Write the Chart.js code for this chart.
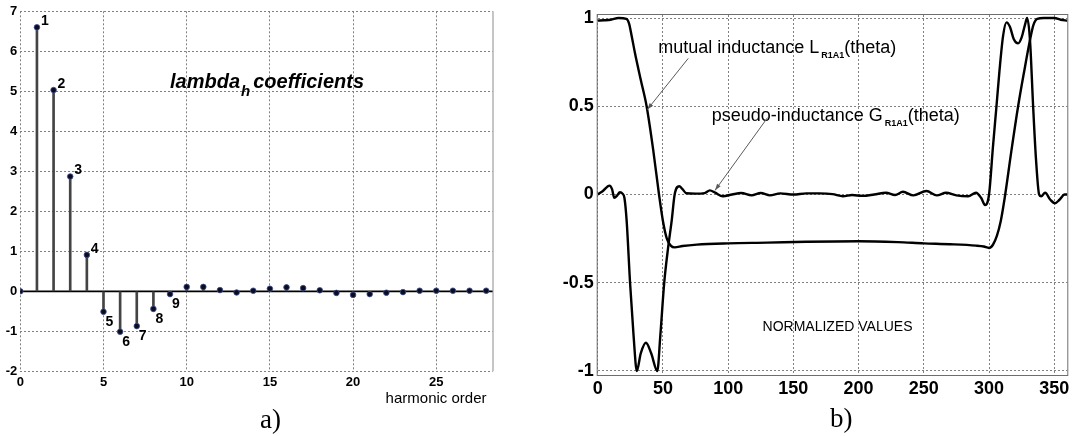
<!DOCTYPE html>
<html>
<head>
<meta charset="utf-8">
<script src="https://cdn.jsdelivr.net/npm/chart.js@4.4.1/dist/chart.umd.min.js"></script>
<style>
  html, body { margin: 0; padding: 0; background: #fff; }
  #wrap { position: relative; width: 1075px; height: 436px; overflow: hidden; background: #fff; }
  canvas { position: absolute; top: 0; }
  #chartA { left: 0; }
  #chartB { left: 540px; }
  .tag { position: absolute; font-family: "Liberation Serif", "Times New Roman", serif; font-size: 27px; line-height: 27px; color: #000; }
</style>
</head>
<body>
<div id="wrap">
  <canvas id="chartA" width="540" height="436"></canvas>
  <canvas id="chartB" width="535" height="436"></canvas>
  <div class="tag" style="left:260px; top:406px;">a)</div>
  <div class="tag" style="left:830px; top:405px;">b)</div>
</div>
<script>
// panel a) : lambda_h coefficients versus harmonic order
const harmonicOrder = [0, 1, 2, 3, 4, 5, 6, 7, 8, 9, 10, 11, 12, 13, 14, 15, 16, 17, 18, 19, 20, 21, 22, 23, 24, 25, 26, 27, 28];
const lambdaCoeff = [0, 6.6, 5.03, 2.87, 0.91, -0.51, -1.01, -0.87, -0.44, -0.07, 0.11, 0.11, 0.03, -0.03, 0.015,
  0.065, 0.1, 0.08, 0.025, -0.04, -0.09, -0.07, -0.035, -0.02, 0.015, 0.015, 0.015, 0.015, 0.015];
const labeledOrders = [1, 2, 3, 4, 5, 6, 7, 8, 9];
const xTicksA = [0, 5, 10, 15, 20, 25];
const yTicksA = [-2, -1, 0, 1, 2, 3, 4, 5, 6, 7];

// panel b) : normalized inductances versus theta (deg)
const thetaL = [0, 5, 10, 16, 22, 24, 26, 28.6, 33, 37.5, 42.6, 47, 50, 53, 56, 59, 65, 76, 100, 130, 160, 200,
  230, 250, 270, 290, 296, 300, 303, 306, 309, 312, 317, 322.3, 327, 331.4, 334, 337, 342, 350, 355, 360];
const valL = [0.985, 0.987, 0.99, 1.0, 0.995, 0.97, 0.9, 0.8, 0.65, 0.5, 0.25, 0.0, -0.15, -0.25, -0.29, -0.30,
  -0.292, -0.284, -0.277, -0.273, -0.268, -0.265, -0.27, -0.277, -0.282, -0.29, -0.295, -0.303, -0.285, -0.235,
  -0.15, -0.02, 0.24, 0.5, 0.7, 0.875, 0.96, 0.995, 1.0, 1.0, 0.99, 0.985];
const thetaG = [0, 4, 9, 11, 12.7, 15, 17, 19, 20.5, 22.2, 24.8, 27.5, 30, 33, 37, 41, 45.7, 48, 51, 54, 56.7, 59,
  62.5, 65, 68, 75, 82, 86, 90, 96, 103, 110, 118, 125, 132, 140, 150, 160, 170, 180, 188, 195, 203, 212, 221,
  228, 234, 242, 252, 260, 267, 275, 284, 290, 294, 297, 300, 303, 305.7, 308, 310.8, 313.4, 316, 319, 322.3,
  325, 327.5, 329.2, 331.4, 333.8, 336, 338.4, 340, 343, 347, 350.5, 354, 358, 360];
const valG = [0, 0.02, 0.05, 0.03, -0.019, -0.005, 0.013, 0.005, -0.02, -0.15, -0.5, -0.8, -1.0, -0.9, -0.84, -0.9,
  -1.0, -0.8, -0.5, -0.3, -0.15, 0.0, 0.047, 0.03, 0.007, 0.005, 0.008, 0.023, 0.01, -0.01, 0.0, 0.008, -0.005,
  0.008, -0.005, 0.006, 0.0, 0.006, 0.006, 0.002, -0.01, -0.003, -0.008, 0.0, 0.01, -0.003, 0.015, -0.005, 0.02,
  -0.005, 0.01, -0.005, -0.01, 0.01, -0.02, -0.06, 0.0, 0.27, 0.5, 0.7, 0.9, 0.975, 0.95, 0.88, 0.856, 0.89, 0.96,
  1.0, 0.875, 0.5, 0.2, 0.0, -0.01, 0.01, -0.03, -0.05, -0.03, 0.0, 0.0];
const xTicksB = [0, 50, 100, 150, 200, 250, 300, 350];
const yTicksB = [-1, -0.5, 0, 0.5, 1];

const FONT = '"Liberation Sans", Arial, Helvetica, sans-serif';
Chart.defaults.font.family = FONT;
Chart.defaults.color = '#000';
Chart.defaults.animation = false;

const gridGray = '#808080';

function fixedTicks(list) {
  return scale => { scale.ticks = list.map(v => ({ value: v })); };
}

// draws a run of text pieces, each with its own font and baseline shift
function drawRun(ctx, x, y, pieces) {
  ctx.textAlign = 'left';
  ctx.textBaseline = 'alphabetic';
  pieces.forEach(([text, font, dy, gap]) => {
    ctx.font = font;
    ctx.fillText(text, x, y + dy);
    x += ctx.measureText(text).width + (gap || 0);
  });
}

function drawArrow(ctx, x1, y1, x2, y2) {
  ctx.beginPath();
  ctx.moveTo(x1, y1);
  ctx.lineTo(x2, y2);
  ctx.stroke();
  const a = Math.atan2(y2 - y1, x2 - x1), len = 7, w = 0.32;
  ctx.beginPath();
  ctx.moveTo(x2, y2);
  ctx.lineTo(x2 - len * Math.cos(a - w), y2 - len * Math.sin(a - w));
  ctx.lineTo(x2 - len * Math.cos(a + w), y2 - len * Math.sin(a + w));
  ctx.closePath();
  ctx.fill();
}

const stemPoints = harmonicOrder.map((h, i) => ({ x: h, y: lambdaCoeff[i] }));

const decorA = {
  id: 'decorA',
  beforeDatasetsDraw(chart) {
    const { ctx, chartArea: ca, scales: { y } } = chart;
    ctx.save();
    ctx.strokeStyle = '#8c8c8c';
    ctx.lineWidth = 1;
    ctx.beginPath();
    ctx.moveTo(ca.right + 0.5, ca.top);
    ctx.lineTo(ca.right + 0.5, ca.bottom);
    ctx.stroke();
    // zero line
    const y0 = y.getPixelForValue(0);
    ctx.strokeStyle = '#000';
    ctx.lineWidth = 1.8;
    ctx.beginPath();
    ctx.moveTo(ca.left, y0);
    ctx.lineTo(ca.right, y0);
    ctx.stroke();
    ctx.restore();
  },
  afterDatasetsDraw(chart) {
    const { ctx, chartArea: ca, scales: { x, y } } = chart;
    ctx.save();
    ctx.fillStyle = '#000';
    ctx.font = 'bold 14px ' + FONT;
    ctx.textAlign = 'left';
    ctx.textBaseline = 'middle';
    labeledOrders.forEach(h => {
      const v = lambdaCoeff[h];
      const px = x.getPixelForValue(h), py = y.getPixelForValue(v);
      if (v >= 0) ctx.fillText(String(h), px + 4, py - 6);
      else ctx.fillText(String(h), px + 2, py + 10);
    });
    drawRun(ctx, x.getPixelForValue(9.0), y.getPixelForValue(5.08), [
      ['lambda', 'italic bold 20px ' + FONT, 0, 1],
      ['h', 'italic bold 15px ' + FONT, 8, 3],
      ['coefficients', 'italic bold 20px ' + FONT, 0]
    ]);
    ctx.font = '15px ' + FONT;
    ctx.textAlign = 'right';
    ctx.textBaseline = 'alphabetic';
    ctx.fillText('harmonic order', ca.right - 6, ca.bottom + 32);
    ctx.restore();
  }
};

new Chart(document.getElementById('chartA'), {
  type: 'scatter',
  data: {
    datasets: [
      { type: 'bar', data: stemPoints, backgroundColor: '#444', borderWidth: 0, barThickness: 2, order: 2 },
      { type: 'scatter', data: stemPoints, pointRadius: 2.8, pointBackgroundColor: '#0b0b22',
        pointBorderColor: '#3d4f8f', pointBorderWidth: 0.8, order: 1 }
    ]
  },
  options: {
    responsive: false,
    animation: false,
    layout: { padding: { left: 0, right: 47.5, top: 11.3, bottom: 40.7 } },
    plugins: { legend: { display: false }, tooltip: { enabled: false } },
    scales: {
      x: {
        type: 'linear', min: 0, max: 28.38, offset: false,
        afterBuildTicks: fixedTicks(xTicksA),
        afterFit: s => { s.height = 24; },
        grid: { offset: false, color: gridGray, lineWidth: 1, drawTicks: false },
        border: { display: false, dash: [2, 2] },
        ticks: { padding: 3, font: { size: 13, weight: 'bold' }, callback: v => String(v) }
      },
      y: {
        type: 'linear', min: -2, max: 7,
        afterBuildTicks: fixedTicks(yTicksA),
        afterFit: s => { s.width = 20.3; },
        grid: { color: gridGray, lineWidth: 1, drawTicks: false },
        border: { display: false, dash: [2, 2] },
        ticks: { padding: 3, font: { size: 13, weight: 'bold' }, callback: v => String(v) }
      }
    }
  },
  plugins: [decorA]
});

const decorB = {
  id: 'decorB',
  beforeDatasetsDraw(chart) {
    const { ctx, chartArea: ca } = chart;
    ctx.save();
    ctx.strokeStyle = '#6e6e6e';
    ctx.lineWidth = 1;
    ctx.strokeRect(ca.left - 0.5, ca.top - 0.5, ca.width + 1, ca.height + 1);
    ctx.restore();
  },
  afterDatasetsDraw(chart) {
    const { ctx, scales: { x, y } } = chart;
    ctx.save();
    ctx.fillStyle = '#000';
    drawRun(ctx, x.getPixelForValue(46.4), y.getPixelForValue(0.80), [
      ['mutual inductance L', '18px ' + FONT, 0, 2],
      ['R1A1', 'bold 9px ' + FONT, 5, 0],
      ['(theta)', '18px ' + FONT, 0]
    ]);
    drawRun(ctx, x.getPixelForValue(87.4), y.getPixelForValue(0.415), [
      ['pseudo-inductance G', '18px ' + FONT, 0, 2],
      ['R1A1', 'bold 9px ' + FONT, 5, 0],
      ['(theta)', '18px ' + FONT, 0]
    ]);
    ctx.font = '14px ' + FONT;
    ctx.textAlign = 'left';
    ctx.fillText('NORMALIZED VALUES', x.getPixelForValue(126.4), y.getPixelForValue(-0.773));
    ctx.strokeStyle = '#5a5a5a';
    ctx.fillStyle = '#5a5a5a';
    ctx.lineWidth = 1;
    drawArrow(ctx, x.getPixelForValue(69.4), y.getPixelForValue(0.771), x.getPixelForValue(38.0), y.getPixelForValue(0.481));
    drawArrow(ctx, x.getPixelForValue(130.3), y.getPixelForValue(0.436), x.getPixelForValue(89.9), y.getPixelForValue(0.023));
    ctx.restore();
  }
};

new Chart(document.getElementById('chartB'), {
  type: 'line',
  data: {
    datasets: [
      { label: 'L', data: thetaL.map((t, i) => ({ x: t, y: valL[i] })), borderColor: '#000', borderWidth: 2.4,
        pointRadius: 0, cubicInterpolationMode: 'monotone', fill: false },
      { label: 'G', data: thetaG.map((t, i) => ({ x: t, y: valG[i] })), borderColor: '#000', borderWidth: 2.4,
        pointRadius: 0, cubicInterpolationMode: 'monotone', fill: false }
    ]
  },
  options: {
    responsive: false,
    animation: false,
    layout: { padding: { left: 0, right: 7.7, top: 15, bottom: 37 } },
    plugins: { legend: { display: false }, tooltip: { enabled: false } },
    scales: {
      x: {
        type: 'linear', min: 0, max: 360,
        afterBuildTicks: fixedTicks(xTicksB),
        afterFit: s => { s.height = 24; },
        grid: { color: gridGray, lineWidth: 1, drawTicks: false },
        border: { display: false, dash: [2, 2] },
        ticks: { padding: 3, font: { size: 18, weight: 'bold' }, callback: v => String(v) }
      },
      y: {
        type: 'linear', min: -1.023, max: 1.017,
        afterBuildTicks: fixedTicks(yTicksB),
        afterFit: s => { s.width = 57.7; },
        grid: { color: gridGray, lineWidth: 1, drawTicks: false },
        border: { display: false, dash: [2, 2] },
        ticks: { padding: 4, font: { size: 18, weight: 'bold' }, callback: v => String(v) }
      }
    }
  },
  plugins: [decorB]
});
</script>
</body>
</html>
